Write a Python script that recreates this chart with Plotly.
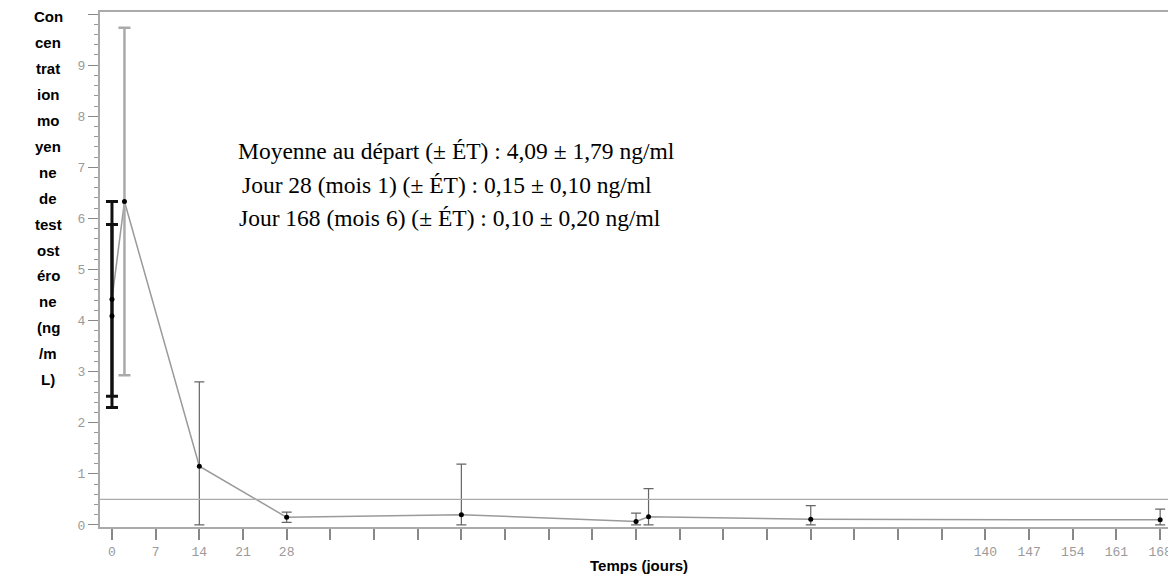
import plotly.graph_objects as go

# ---- data ----
days = [0, 0, 2, 14, 28, 56, 84, 86, 112, 168]
means = [4.09, 4.42, 6.33, 1.15, 0.15, 0.20, 0.07, 0.16, 0.11, 0.10]
upper = [5.88, 6.33, 9.73, 2.80, 0.25, 1.19, 0.23, 0.71, 0.38, 0.31]
lower = [2.30, 2.52, 2.93, 0.00, 0.05, 0.00, 0.00, 0.00, 0.00, 0.00]
line_idx = [1, 2, 3, 4, 5, 6, 7, 8, 9]          # points joined by the mean line
group_baseline = [0, 1]
group_day2 = [2]
group_rest = [3, 4, 5, 6, 7, 8, 9]
lloq = 0.5

x_tickvals = list(range(0, 169, 7))
x_labeled = [0, 7, 14, 21, 28, 140, 147, 154, 161, 168]
x_ticktext = [str(v) if v in x_labeled else "" for v in x_tickvals]
y_tickvals = list(range(0, 11))

ytitle_lines = ["Con", "cen", "trat", "ion", "mo", "yen", "ne", "de", "test",
                "ost", "éro", "ne", "(ng", "/m", "L)"]
xtitle = "Temps (jours)"
notes = ["Moyenne au départ (± ÉT) : 4,09 ± 1,79 ng/ml",
         "Jour 28 (mois 1) (± ÉT) : 0,15 ± 0,10 ng/ml",
         "Jour 168 (mois 6) (± ÉT) : 0,10 ± 0,20 ng/ml"]

# ---- figure ----
PAGE_OFF = 8                      # default body margin of the page
REF_W, REF_H = 1176, 579
W, H = REF_W - PAGE_OFF, REF_H - PAGE_OFF
ML, MR, MT, MB = 100 - PAGE_OFF, 2, 10 - PAGE_OFF, 52
PW, PH = W - ML - MR, H - MT - MB


def px(xpix):
    return (xpix - 100) / PW


def py(ypix):
    return (REF_H - MB - ypix) / PH


fig = go.Figure()

fig.add_trace(go.Scatter(
    x=[days[i] for i in line_idx], y=[means[i] for i in line_idx],
    mode="lines", line=dict(color="#9a9a9a", width=1.5),
    hoverinfo="skip", showlegend=False))


def add_group(idx, color, thick, width):
    fig.add_trace(go.Scatter(
        x=[days[i] for i in idx], y=[means[i] for i in idx],
        mode="markers",
        marker=dict(color="black", size=5),
        error_y=dict(type="data", symmetric=False,
                     array=[upper[i] - means[i] for i in idx],
                     arrayminus=[means[i] - lower[i] for i in idx],
                     color=color, thickness=thick, width=width),
        showlegend=False))


add_group(group_day2, "#aaaaaa", 2.5, 6)
add_group(group_rest, "#666666", 1.2, 5)
add_group(group_baseline, "#111111", 3, 6)

fig.add_shape(type="line", xref="paper", x0=0, x1=1, yref="y", y0=lloq, y1=lloq,
              line=dict(color="#aaaaaa", width=1.2))

tickfont = dict(family="Liberation Mono", size=13, color="#9a9a9a")
fig.update_xaxes(range=[-1.92, 169.9], tickmode="array", tickvals=x_tickvals,
                 ticktext=x_ticktext, ticks="outside", ticklen=11, tickwidth=1.5,
                 tickcolor="#888888", tickfont=tickfont, showgrid=False,
                 zeroline=False, showline=True, linecolor="#aaaaaa", linewidth=2,
                 mirror=True)
fig.update_yaxes(range=[-0.04, 10.04], tickmode="array", tickvals=y_tickvals,
                 ticks="outside", ticklen=10, tickwidth=1.2, tickcolor="#888888",
                 tickfont=tickfont, showgrid=False, zeroline=False, showline=True,
                 linecolor="#aaaaaa", linewidth=2, mirror=True,
                 minor=dict(dtick=0.2, ticks="outside", ticklen=4,
                            tickcolor="#999999", tickwidth=1))

annotations = []
# y-axis title, one annotation per wrapped line
for k, t in enumerate(ytitle_lines):
    ypix = 15 + k * 26.0
    annotations.append(dict(
        text="<b>%s</b>" % t, xref="paper", yref="paper",
        x=px(48), y=py(ypix), xanchor="center", yanchor="middle",
        showarrow=False, font=dict(family="Liberation Sans", size=15, color="black")))

annotations.append(dict(
    text="<b>%s</b>" % xtitle, xref="paper", yref="paper",
    x=px(640), y=py(566), xanchor="center", yanchor="middle",
    showarrow=False, font=dict(family="Liberation Sans", size=15, color="black")))

note_pos = [(236, 150), (240, 184), (237, 217)]
for t, (xp, yp) in zip(notes, note_pos):
    annotations.append(dict(
        text=t, xref="paper", yref="paper",
        x=px(xp), y=py(yp), xanchor="left", yanchor="middle",
        showarrow=False, font=dict(family="Liberation Serif", size=23.5, color="black")))

fig.update_layout(width=W, height=H, margin=dict(l=ML, r=MR, t=MT, b=MB),
                  plot_bgcolor="white", paper_bgcolor="white",
                  annotations=annotations, showlegend=False)

fig.write_html("out.html")
